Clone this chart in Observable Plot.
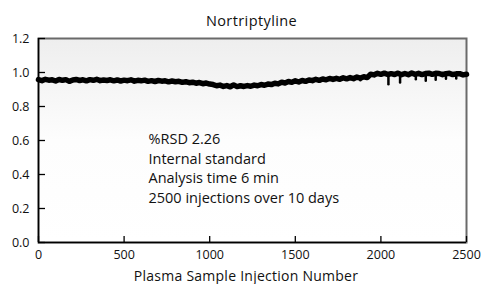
<!DOCTYPE html>
<html><head><meta charset="utf-8">
<script src="https://cdn.jsdelivr.net/npm/d3@7"></script>
<script src="https://cdn.jsdelivr.net/npm/@observablehq/plot@0.6"></script>
<style>
body{margin:0;background:#fff;font-family:"Open Sans",sans-serif;color:#111}
#wrap{width:483px;height:284px;overflow:hidden;position:relative}
.title{height:30px;box-sizing:border-box;padding-top:13px;padding-left:20px;line-height:16px;font-size:14.5px;letter-spacing:0.4px;text-align:center;white-space:nowrap}
.xlabel{height:16px;box-sizing:content-box;padding-top:0px;line-height:16px;font-size:14px;letter-spacing:0.25px;text-align:center;padding-left:9px;white-space:nowrap}
#chart svg{display:block}
</style></head>
<body>
<svg width="0" height="0" style="position:absolute"><defs>
<linearGradient id="bg" x1="0" y1="0" x2="0" y2="1">
<stop offset="0" stop-color="#eeeeee"/><stop offset="0.5" stop-color="#fdfdfd"/><stop offset="1" stop-color="#ffffff"/>
</linearGradient></defs></svg>
<div id="wrap">
<div class="title" id="title"></div>
<div id="chart"></div>
<div class="xlabel" id="xlabel"></div>
</div>
<script>
const chartTitle = "Nortriptyline";
const xAxisLabel = "Plasma Sample Injection Number";
const xTicks = [0, 500, 1000, 1500, 2000, 2500];
const yTicks = [0, 0.2, 0.4, 0.6, 0.8, 1.0, 1.2];
const annotationLines = ["%RSD 2.26", "Internal standard", "Analysis time 6 min", "2500 injections over 10 days"];
// injection number sampled every 20 injections (0..2500)
const injectionStep = 20;
// response ratio
const ratio = [
  0.958, 0.952, 0.960, 0.955, 0.957, 0.950, 0.959, 0.954, 0.958, 0.948, 0.956,
  0.959, 0.953, 0.957, 0.951, 0.958, 0.954, 0.960, 0.952, 0.956, 0.953,
  0.957, 0.951, 0.956, 0.950, 0.955, 0.952, 0.957, 0.949, 0.954, 0.951,
  0.955, 0.948, 0.952, 0.947, 0.953, 0.949, 0.951, 0.945, 0.950, 0.946,
  0.948, 0.942, 0.946, 0.940, 0.943, 0.937, 0.941, 0.934, 0.938, 0.932,
  0.929, 0.922, 0.926, 0.918, 0.923, 0.916, 0.927, 0.917, 0.922, 0.918,
  0.923, 0.919, 0.926, 0.922, 0.929, 0.925, 0.932, 0.929, 0.937, 0.933,
  0.943, 0.938, 0.947, 0.942, 0.951, 0.944, 0.953, 0.948, 0.956, 0.952,
  0.960, 0.954, 0.962, 0.957, 0.965, 0.959, 0.966, 0.960, 0.969, 0.963,
  0.970, 0.964, 0.973, 0.967, 0.975, 0.970, 0.990,
  0.986, 0.995, 0.989, 0.996, 0.988, 0.993, 0.988, 0.996, 0.987, 0.994,
  0.987, 0.997, 0.989, 0.995, 0.988, 0.994, 0.996, 0.989, 0.995, 0.994,
  0.987, 0.993, 0.995, 0.988, 0.992, 0.993, 0.986, 0.990
];
// short downward spikes: injection, top, bottom
const spikeInjection = [1880, 2044, 2112, 2204, 2262, 2320, 2380, 2440];
const spikeTop = [0.966, 0.985, 0.985, 0.985, 0.985, 0.985, 0.985, 0.984];
const spikeBottom = [0.952, 0.928, 0.938, 0.958, 0.948, 0.955, 0.960, 0.962];

const data = ratio.map((v, i) => ({injection: i * injectionStep, ratio: v}));
const spikes = spikeInjection.map((x, i) => ({injection: x, top: spikeTop[i], bottom: spikeBottom[i]}));

document.getElementById("title").textContent = chartTitle;
document.getElementById("xlabel").textContent = xAxisLabel;

const chart = Plot.plot({
  width: 483, height: 238,
  marginTop: 8, marginLeft: 38, marginRight: 17, marginBottom: 26,
  style: {fontFamily: "'Open Sans', sans-serif", fontSize: "12.5px", background: "transparent", color: "#111", overflow: "visible"},
  x: {domain: [0, 2500], label: null},
  y: {domain: [0, 1.2], label: null},
  marks: [
    Plot.frame({fill: "url(#bg)", stroke: "#6a6a6a", strokeWidth: 2}),
    Plot.ruleX([0], {stroke: "#000", strokeWidth: 1.5}),
    Plot.ruleY([0], {stroke: "#000", strokeWidth: 1.5}),
    Plot.tickY(yTicks, {y: d => d, stroke: "#000", strokeWidth: 1.3, insetRight: 421}),
    Plot.tickX(xTicks, {x: d => d, stroke: "#000", strokeWidth: 1.3, insetTop: 198}),
    Plot.axisX({ticks: xTicks, tickSize: 0, tickPadding: 8, tickFormat: d3.format("d"), label: null}),
    Plot.axisY({ticks: yTicks, tickSize: 0, tickPadding: 9, tickFormat: d3.format(".1f"), label: null}),
    Plot.line(data, {x: "injection", y: "ratio", stroke: "#000", strokeWidth: 5.5, strokeLinejoin: "round"}),
    Plot.ruleX(spikes, {x: "injection", y1: "top", y2: "bottom", stroke: "#000", strokeWidth: 2.5, strokeLinecap: "round"}),
    Plot.text([annotationLines.join("\n")], {frameAnchor: "top-left", dx: 110, dy: 92, textAnchor: "start", lineAnchor: "top", lineHeight: 1.34, fontSize: 14.5, fill: "#111"})
  ]
});
document.getElementById("chart").appendChild(chart);
</script>
</body></html>
